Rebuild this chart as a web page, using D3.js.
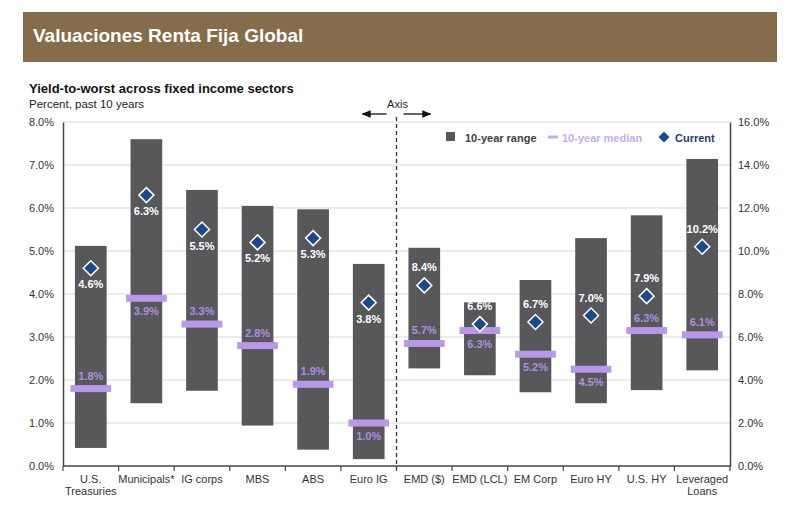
<!DOCTYPE html>
<html>
<head>
<meta charset="utf-8">
<script src="https://cdn.jsdelivr.net/npm/d3@7"></script>
<style>
  html, body { margin: 0; padding: 0; background: #fff; }
  svg { display: block; font-family: "Liberation Sans", Arial, sans-serif; }
</style>
</head>
<body>
<svg id="chart" width="790" height="521"></svg>
<script>
const categories = ["U.S.\nTreasuries", "Municipals*", "IG corps", "MBS", "ABS", "Euro IG",
                    "EMD ($)", "EMD (LCL)", "EM Corp", "Euro HY", "U.S. HY", "Leveraged\nLoans"];
const rangeLow  = [0.42, 1.46, 1.75, 0.94, 0.38, 0.16, 4.54, 4.22, 3.43, 2.92, 3.53, 4.45];
const rangeHigh = [5.12, 7.60, 6.42, 6.05, 5.97, 4.70, 10.15, 7.61, 8.65, 10.60, 11.66, 14.28];
const median    = [1.8, 3.9, 3.3, 2.8, 1.9, 1.0, 5.7, 6.3, 5.2, 4.5, 6.3, 6.1];
const current   = [4.6, 6.3, 5.5, 5.2, 5.3, 3.8, 8.4, 6.6, 6.7, 7.0, 7.9, 10.2];
const axisSide  = ["L", "L", "L", "L", "L", "L", "R", "R", "R", "R", "R", "R"];
const medianLabelPos  = ["above", "below", "above", "above", "above", "below",
                         "above", "below", "below", "below", "above", "above"];
const currentLabelPos = ["below", "below", "below", "below", "below", "below",
                         "above", "above", "above", "above", "above", "above"];
const leftTicks  = [0, 1, 2, 3, 4, 5, 6, 7, 8];
const rightTicks = [0, 2, 4, 6, 8, 10, 12, 14, 16];

const svg = d3.select("#chart");
const plotL = 63, plotR = 730, plotT = 122, plotB = 466;

const x = d3.scaleBand().domain(categories).range([plotL, plotR]).paddingInner(0.43).paddingOuter(0.215);
const xEdge = d3.scaleBand().domain(categories).range([plotL, plotR]).padding(0);
const yL = d3.scaleLinear().domain([0, 8]).range([plotB, plotT]);
const yR = d3.scaleLinear().domain([0, 16]).range([plotB, plotT]);
const yOf = (i, v) => axisSide[i] === "L" ? yL(v) : yR(v);
const cx = c => x(c) + x.bandwidth() / 2;

// Header band
svg.append("rect").attr("x", 23).attr("y", 12).attr("width", 754).attr("height", 50).attr("fill", "#856c4b");
svg.append("text").attr("x", 33).attr("y", 42).attr("fill", "#ffffff")
  .attr("font-size", 19).attr("font-weight", "bold").text("Valuaciones Renta Fija Global");

// Titles
svg.append("text").attr("x", 29).attr("y", 93).attr("fill", "#111")
  .attr("font-size", 13).attr("font-weight", "bold").text("Yield-to-worst across fixed income sectors");
svg.append("text").attr("x", 29).attr("y", 108).attr("fill", "#222")
  .attr("font-size", 11.5).text("Percent, past 10 years");

// Gridlines
svg.append("g").selectAll("line").data(leftTicks.filter(d => d > 0)).join("line")
  .attr("x1", plotL).attr("x2", plotR)
  .attr("y1", d => yL(d)).attr("y2", d => yL(d))
  .attr("stroke", "#d9d9d9").attr("stroke-width", 1);

// Left axis
const gL = svg.append("g").attr("transform", `translate(${plotL},0)`)
  .call(d3.axisLeft(yL).tickValues(leftTicks).tickSize(0).tickPadding(9).tickFormat(d => d.toFixed(1) + "%"));
gL.select(".domain").attr("stroke", "#444").attr("stroke-width", 1.5);
gL.selectAll("text").attr("font-size", 11).attr("fill", "#333").attr("font-family", "Liberation Sans, Arial, sans-serif");

// Right axis
const gR = svg.append("g").attr("transform", `translate(${plotR},0)`)
  .call(d3.axisRight(yR).tickValues(rightTicks).tickSize(0).tickPadding(8).tickFormat(d => d.toFixed(1) + "%"));
gR.select(".domain").attr("stroke", "#444").attr("stroke-width", 1.5);
gR.selectAll("text").attr("font-size", 11).attr("fill", "#333").attr("font-family", "Liberation Sans, Arial, sans-serif");

// Bottom axis line + boundary ticks
svg.append("line").attr("x1", plotL).attr("x2", plotR).attr("y1", plotB).attr("y2", plotB)
  .attr("stroke", "#444").attr("stroke-width", 1.5);
const edges = categories.map(c => xEdge(c)).concat([xEdge(categories[categories.length - 1]) + xEdge.bandwidth()]);
svg.append("g").selectAll("line").data(edges).join("line")
  .attr("x1", d => d).attr("x2", d => d).attr("y1", plotB).attr("y2", plotB + 5)
  .attr("stroke", "#444").attr("stroke-width", 1.2);

// Category labels
const catG = svg.append("g");
categories.forEach(c => {
  const t = catG.append("text").attr("x", cx(c)).attr("y", 483).attr("text-anchor", "middle")
    .attr("font-size", 11).attr("fill", "#333");
  c.split("\n").forEach((line, k) => {
    t.append("tspan").attr("x", cx(c)).attr("dy", k === 0 ? 0 : 12).text(line);
  });
});

// Divider dashed line and "Axis" annotation
const divX = xEdge(categories[6]);
svg.append("line").attr("x1", divX).attr("x2", divX).attr("y1", 117).attr("y2", plotB + 3)
  .attr("stroke", "#333").attr("stroke-width", 1.3).attr("stroke-dasharray", "4,3");
svg.append("text").attr("x", divX + 1).attr("y", 108).attr("text-anchor", "middle")
  .attr("font-size", 11).attr("fill", "#222").text("Axis");
const defs = svg.append("defs");
defs.append("marker").attr("id", "arr").attr("viewBox", "0 0 10 10").attr("refX", 9).attr("refY", 5)
  .attr("markerWidth", 7).attr("markerHeight", 7).attr("orient", "auto-start-reverse")
  .append("path").attr("d", "M0,1 L10,5 L0,9 Z").attr("fill", "#111");
svg.append("line").attr("x1", divX - 10).attr("x2", divX - 34).attr("y1", 114).attr("y2", 114)
  .attr("stroke", "#111").attr("stroke-width", 1.3).attr("marker-end", "url(#arr)");
svg.append("line").attr("x1", divX + 7).attr("x2", divX + 34).attr("y1", 114).attr("y2", 114)
  .attr("stroke", "#111").attr("stroke-width", 1.3).attr("marker-end", "url(#arr)");

// Range bars
svg.append("g").selectAll("rect").data(categories).join("rect")
  .attr("x", c => x(c)).attr("width", x.bandwidth())
  .attr("y", (c, i) => yOf(i, rangeHigh[i]))
  .attr("height", (c, i) => yOf(i, rangeLow[i]) - yOf(i, rangeHigh[i]))
  .attr("fill", "#58585b");

// Median bars
const medW = x.bandwidth() + 9;
svg.append("g").selectAll("rect").data(categories).join("rect")
  .attr("x", c => cx(c) - medW / 2).attr("width", medW)
  .attr("y", (c, i) => yOf(i, median[i]) - 3.5).attr("height", 7)
  .attr("fill", "#b898e8");

// Median labels
svg.append("g").selectAll("text").data(categories).join("text")
  .attr("x", c => cx(c))
  .attr("y", (c, i) => yOf(i, median[i]) + (medianLabelPos[i] === "above" ? -9 : 17))
  .attr("text-anchor", "middle").attr("font-size", 11).attr("font-weight", "bold")
  .attr("fill", "#ac8fe0").text((c, i) => median[i].toFixed(1) + "%");

// Current diamonds
const dia = "M0,-7.5 L7.5,0 L0,7.5 L-7.5,0 Z";
svg.append("g").selectAll("path").data(categories).join("path")
  .attr("transform", (c, i) => `translate(${cx(c)},${yOf(i, current[i])})`)
  .attr("d", dia).attr("fill", "#1b4a8c").attr("stroke", "#ffffff").attr("stroke-width", 1.5);

// Current labels
svg.append("g").selectAll("text").data(categories).join("text")
  .attr("x", c => cx(c))
  .attr("y", (c, i) => yOf(i, current[i]) + (currentLabelPos[i] === "below" ? 20 : -14))
  .attr("text-anchor", "middle").attr("font-size", 11).attr("font-weight", "bold")
  .attr("fill", "#ffffff").text((c, i) => current[i].toFixed(1) + "%");

// Legend
const lg = svg.append("g").attr("font-size", 11).attr("font-weight", "bold");
lg.append("rect").attr("x", 446).attr("y", 132).attr("width", 9).attr("height", 9).attr("fill", "#58585b");
lg.append("text").attr("x", 465).attr("y", 142).attr("fill", "#404040").text("10-year range");
lg.append("rect").attr("x", 548).attr("y", 135.5).attr("width", 10).attr("height", 3).attr("fill", "#c3aeea");
lg.append("text").attr("x", 562).attr("y", 142).attr("fill", "#c3aeea").text("10-year median");
lg.append("path").attr("transform", "translate(664,137)").attr("d", "M0,-5.5 L5.5,0 L0,5.5 L-5.5,0 Z").attr("fill", "#1b4a8c");
lg.append("text").attr("x", 675).attr("y", 142).attr("fill", "#1f3c6e").text("Current");
</script>
</body>
</html>
